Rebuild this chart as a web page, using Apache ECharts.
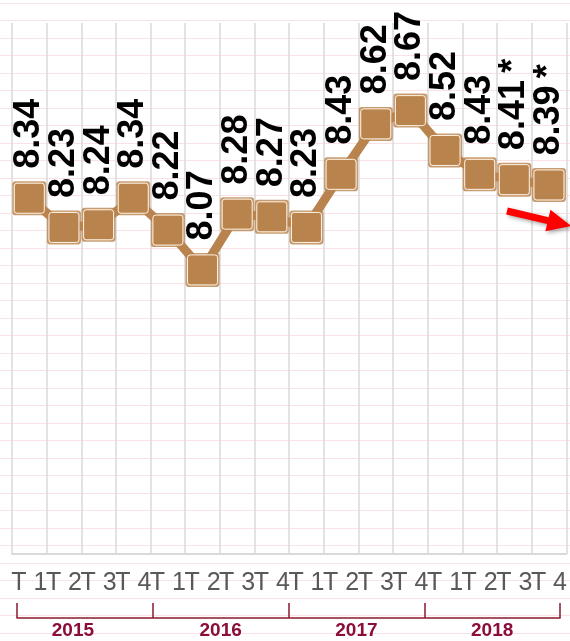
<!DOCTYPE html>
<html>
<head>
<meta charset="utf-8">
<script src="https://cdn.jsdelivr.net/npm/echarts@6/dist/echarts.min.js"></script>
<style>
  html, body { margin: 0; padding: 0; background: #fff; }
  #chart { width: 570px; height: 641px; }
</style>
</head>
<body>
<div id="chart"></div>
<script>
// quarters 2015 T1 .. 2018 T4
const quarters = ['T 1', 'T 2', 'T 3', 'T 4', 'T 1', 'T 2', 'T 3', 'T 4',
  'T 1', 'T 2', 'T 3', 'T 4', 'T 1', 'T 2', 'T 3', 'T 4']
const years = ['2015', '2016', '2017', '2018']
const values = [8.34, 8.23, 8.24, 8.34, 8.22, 8.07, 8.28, 8.27,
  8.23, 8.43, 8.62, 8.67, 8.52, 8.43, 8.41, 8.39]
// estimated values get an asterisk
const marks = ['', '', '', '', '', '', '', '', '', '', '', '', '', '', '*', '*']

const brown = '#b9834d'
// square with slightly rounded corners
const square = 'path://M3,0 H30 Q33,0 33,3 V30 Q33,33 30,33 H3 Q0,33 0,30 V3 Q0,0 3,0 Z'
const chart = echarts.init(document.getElementById('chart'))

// first year label sits a bit left of its bracket centre in the original
const yearData = years.map((y, i) => i === 0 ? { value: y, textStyle: { padding: [0, 24, 0, 0] } } : y)

chart.setOption({
  animation: false,
  textStyle: { fontFamily: 'Liberation Sans, Arial, sans-serif' },
  grid: [
    { left: 0, right: 0, top: 3, height: 630 }, // ruled paper background
    { left: 12, right: 3, top: 23, bottom: 87 },
    { left: 17, right: 10, top: 603, height: 15 } // year brackets
  ],
  xAxis: [
    { gridIndex: 0, type: 'value', show: false },
    {
      gridIndex: 1,
      type: 'category',
      data: quarters,
      boundaryGap: true,
      axisLine: { lineStyle: { color: '#d9d9d9', width: 2 } },
      axisTick: { show: false },
      splitLine: { show: true, interval: 0, lineStyle: { color: '#d9d9d9', width: 1.5 } },
      axisLabel: { interval: 0, fontSize: 25, color: '#595959', margin: 17 }
    },
    {
      gridIndex: 2,
      type: 'category',
      data: yearData,
      boundaryGap: true,
      axisLine: { lineStyle: { color: '#8b1a2e', width: 1.5 } },
      axisTick: { show: true, inside: true, length: 15, interval: 0, lineStyle: { color: '#8b1a2e', width: 1.5 } },
      axisLabel: { fontSize: 19, fontWeight: 'bold', color: '#8b0d3a', margin: 3 }
    }
  ],
  yAxis: [
    {
      gridIndex: 0,
      type: 'value',
      inverse: true,
      min: 0,
      max: 630,
      interval: 17.5,
      axisLine: { show: false },
      axisTick: { show: false },
      axisLabel: { show: false },
      splitLine: { lineStyle: { color: '#f9e1e4', width: 1 } }
    },
    { gridIndex: 1, type: 'value', min: 7, max: 9, show: false },
    { gridIndex: 2, type: 'value', show: false }
  ],
  series: [
    {
      // outer rim of the markers
      type: 'scatter',
      xAxisIndex: 1,
      yAxisIndex: 1,
      data: values,
      symbol: square,
      symbolSize: 34,
      itemStyle: { color: brown },
      silent: true,
      z: 2
    },
    {
      type: 'line',
      xAxisIndex: 1,
      yAxisIndex: 1,
      data: values,
      symbol: square,
      symbolSize: 30,
      lineStyle: { color: brown, width: 9 },
      itemStyle: { color: brown, borderColor: '#fff4e6', borderWidth: 1 },
      label: {
        show: true,
        position: 'top',
        distance: 14,
        rotate: 90,
        align: 'left',
        verticalAlign: 'middle',
        fontSize: 36,
        fontWeight: 'bold',
        color: '#000',
        formatter: p => p.value.toFixed(2) + (marks[p.dataIndex] ? '\u2009' + marks[p.dataIndex] : '')
      },
      z: 3
    }
  ],
  graphic: [
    {
      type: 'polygon',
      x: 507,
      y: 211,
      rotation: -0.23,
      shape: {
        points: [[0, -3.5], [42, -3.5], [42, -11], [66, 0], [42, 11], [42, 3.5], [0, 3.5]]
      },
      style: { fill: '#ff0000', shadowBlur: 4, shadowColor: 'rgba(0,0,0,0.35)', shadowOffsetX: 2, shadowOffsetY: 2 },
      z: 10
    }
  ]
})
</script>
</body>
</html>
